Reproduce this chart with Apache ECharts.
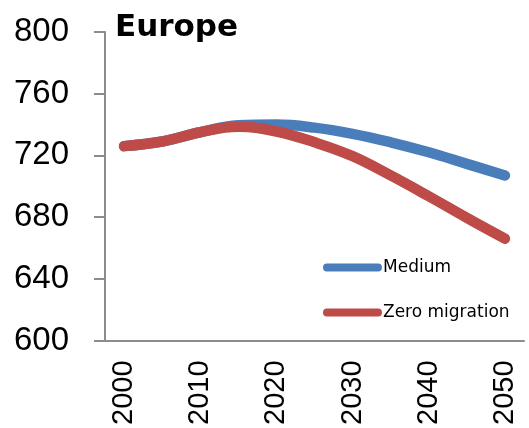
<!DOCTYPE html>
<html><head><meta charset="utf-8">
<script src="https://cdn.jsdelivr.net/npm/echarts@6/dist/echarts.min.js"></script>
<style>html,body{margin:0;padding:0;background:#fff}#c{width:529px;height:428px}</style>
</head><body><div id="c"></div>
<script>
var categories = ['2000','2005','2010','2015','2020','2025','2030','2035','2040','2045','2050'];
var medium = [726, 729, 735, 739.5, 740, 738, 734, 728.5, 722, 714.5, 707];
var zeroMigration = [726, 729, 735, 738.5, 735.5, 728.5, 719.5, 707, 693.5, 679.5, 666];
var yTicks = {min: 600, max: 800, interval: 40};
var titleText = 'Europe';

var chart = echarts.init(document.getElementById('c'));
var pill = 'path://M4,0 H56 A4,4 0 0 1 56,8 H4 A4,4 0 0 1 4,0 Z';
chart.setOption({
  animation: false,
  title: {text: titleText, left: 115, top: 12, padding: 0,
    textStyle: {fontFamily: 'DejaVu Sans', fontWeight: 'bold', fontSize: 31, color: '#000'}},
  grid: {left: 105, right: 5, top: 32, bottom: 86},
  legend: {orient: 'vertical', left: 318, top: 254, itemWidth: 59, itemHeight: 8, itemGap: 28,
    icon: pill,
    textStyle: {fontFamily: 'DejaVu Sans', fontSize: 17, color: '#000', padding: [0,0,0,-4]},
    data: ['Medium', 'Zero migration']},
  xAxis: {type: 'category', data: categories, boundaryGap: true,
    axisLine: {lineStyle: {color: '#8c8c8c', width: 2}},
    axisTick: {length: 9, lineStyle: {color: '#8c8c8c', width: 2}, interval: 0},
    axisLabel: {interval: 1, rotate: 90, margin: 20, fontFamily: 'Liberation Sans', fontSize: 29, color: '#000'}},
  yAxis: {type: 'value', min: yTicks.min, max: yTicks.max, interval: yTicks.interval,
    splitLine: {show: false},
    axisLine: {show: true, lineStyle: {color: '#8c8c8c', width: 2}},
    axisTick: {show: true, length: 11, lineStyle: {color: '#8c8c8c', width: 2}},
    axisLabel: {margin: 36, fontFamily: 'Liberation Sans', fontSize: 33, color: '#000'}},
  series: [
    {name: 'Medium', type: 'line', data: medium, smooth: 0.4, symbol: 'none',
      itemStyle: {color: '#4a7ebb'}, lineStyle: {color: '#4a7ebb', width: 10.5, cap: 'round', join: 'round'}},
    {name: 'Zero migration', type: 'line', data: zeroMigration, smooth: 0.4, symbol: 'none',
      itemStyle: {color: '#be4b48'}, lineStyle: {color: '#be4b48', width: 10.5, cap: 'round', join: 'round'}}
  ]
});
</script></body></html>
